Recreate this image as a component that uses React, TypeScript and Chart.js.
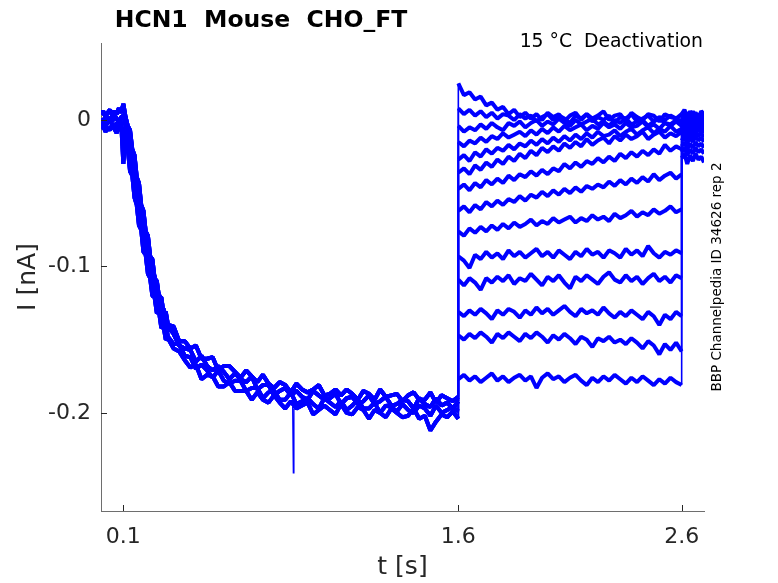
import { useEffect, useRef } from 'react';
import { Chart, registerables } from 'chart.js';

Chart.register(...registerables);

const TITLE = 'HCN1  Mouse  CHO_FT';
const NOTE = '15 °C  Deactivation';
const SOURCE = 'BBP Channelpedia ID 34626 rep 2';

const X_TICKS = [0.1, 1.6, 2.6];
const Y_TICKS = [0, -0.1, -0.2];

// time points [s] of the activation part (holding + activation step)
const T_ACT = [
  0, 0.01, 0.02, 0.03, 0.04, 0.05, 0.06, 0.07, 0.08, 0.09, 0.1,
  0.11, 0.12, 0.13, 0.14, 0.15, 0.16, 0.17, 0.18, 0.19, 0.2,
  0.21, 0.22, 0.23, 0.24, 0.25, 0.26, 0.27, 0.28, 0.29, 0.3,
  0.325, 0.35, 0.375, 0.4, 0.425, 0.45, 0.475, 0.5, 0.525, 0.55, 0.575, 0.6,
  0.625, 0.65, 0.675, 0.7, 0.725, 0.75, 0.775, 0.8, 0.825, 0.85, 0.875, 0.9,
  0.925, 0.95, 0.975, 1, 1.025, 1.05, 1.075, 1.1, 1.125, 1.15, 1.175, 1.2,
  1.225, 1.25, 1.275, 1.3, 1.325, 1.35, 1.375, 1.4, 1.425, 1.45, 1.475, 1.5,
  1.525, 1.55, 1.575, 1.6,
];

// activation current [nA], four groups of sweeps
const ACT_A = [
  0.004, 0.006, 0.002, 0.005, 0.007, 0.003, 0.006, 0.004, 0.008, 0.005, 0.011,
  0.002, -0.004, -0.007, -0.020, -0.024, -0.039, -0.043, -0.058, -0.062, -0.076,
  -0.079, -0.093, -0.095, -0.108, -0.110, -0.121, -0.121, -0.132, -0.131, -0.140,
  -0.141, -0.151, -0.151, -0.156, -0.154, -0.163, -0.163, -0.162, -0.171, -0.168,
  -0.168, -0.172, -0.176, -0.171, -0.175, -0.179, -0.174, -0.180, -0.183, -0.179,
  -0.181, -0.186, -0.180, -0.184, -0.186, -0.184, -0.181, -0.188, -0.187, -0.184,
  -0.188, -0.184, -0.187, -0.191, -0.185, -0.187, -0.191, -0.184, -0.189, -0.188,
  -0.187, -0.192, -0.188, -0.186, -0.191, -0.191, -0.186, -0.193, -0.188, -0.190, -0.192, -0.189,
];
const ACT_B = [
  0.001, -0.002, 0.003, 0.000, 0.002, -0.001, 0.003, 0.001, -0.002, 0.002, 0.003,
  -0.004, -0.006, -0.019, -0.022, -0.036, -0.041, -0.055, -0.060, -0.073, -0.077,
  -0.090, -0.093, -0.104, -0.107, -0.118, -0.119, -0.128, -0.129, -0.138, -0.141,
  -0.146, -0.154, -0.156, -0.157, -0.165, -0.161, -0.168, -0.171, -0.168, -0.172,
  -0.177, -0.173, -0.177, -0.179, -0.175, -0.184, -0.181, -0.181, -0.188, -0.185,
  -0.183, -0.188, -0.185, -0.189, -0.191, -0.185, -0.188, -0.191, -0.190, -0.187,
  -0.194, -0.190, -0.189, -0.194, -0.192, -0.188, -0.194, -0.192, -0.189, -0.195,
  -0.194, -0.191, -0.192, -0.197, -0.190, -0.194, -0.196, -0.190, -0.195, -0.193, -0.197, -0.192,
];
const ACT_C = [
  -0.003, -0.001, -0.004, -0.002, 0.000, -0.003, -0.005, -0.002, -0.004, -0.001, -0.030,
  -0.010, -0.018, -0.022, -0.036, -0.040, -0.055, -0.059, -0.073, -0.077, -0.090,
  -0.093, -0.106, -0.108, -0.120, -0.121, -0.131, -0.131, -0.141, -0.140, -0.148,
  -0.153, -0.153, -0.161, -0.162, -0.170, -0.167, -0.171, -0.176, -0.171, -0.178,
  -0.180, -0.178, -0.178, -0.185, -0.183, -0.183, -0.190, -0.186, -0.185, -0.191,
  -0.191, -0.186, -0.194, -0.192, -0.190, -0.194, -0.197, -0.190, -0.193, -0.196,
  -0.192, -0.198, -0.195, -0.191, -0.197, -0.197, -0.193, -0.200, -0.195, -0.196,
  -0.199, -0.194, -0.198, -0.200, -0.195, -0.197, -0.202, -0.195, -0.200, -0.198, -0.196, -0.199,
];
const ACT_D = [
  -0.006, -0.004, -0.008, -0.005, -0.007, -0.003, -0.006, -0.009, -0.004, -0.007, -0.005,
  -0.013, -0.020, -0.035, -0.038, -0.053, -0.058, -0.072, -0.075, -0.090, -0.092,
  -0.105, -0.108, -0.120, -0.121, -0.132, -0.131, -0.142, -0.141, -0.150, -0.149,
  -0.156, -0.158, -0.164, -0.169, -0.167, -0.177, -0.174, -0.175, -0.182, -0.182,
  -0.179, -0.185, -0.185, -0.185, -0.191, -0.186, -0.191, -0.193, -0.188, -0.193,
  -0.197, -0.192, -0.197, -0.195, -0.193, -0.201, -0.198, -0.195, -0.198, -0.201,
  -0.194, -0.200, -0.201, -0.196, -0.198, -0.204, -0.198, -0.200, -0.203, -0.197,
  -0.200, -0.203, -0.202, -0.197, -0.204, -0.202, -0.212, -0.206, -0.201, -0.203, -0.199, -0.204,
];
const ACT_TRACES = [ACT_A, ACT_B, ACT_C, ACT_D];

// single artefact spike during activation
const SPIKE_T = [0.858, 0.861, 0.864];
const SPIKE_I = [-0.196, -0.241, -0.197];

// time points [s] of the deactivation steps
const T_TAIL = [
  1.6, 1.625, 1.65, 1.675, 1.7, 1.725, 1.75, 1.775, 1.8, 1.825,
  1.85, 1.875, 1.9, 1.925, 1.95, 1.975, 2, 2.025, 2.05, 2.075,
  2.1, 2.125, 2.15, 2.175, 2.2, 2.225, 2.25, 2.275, 2.3, 2.325,
  2.35, 2.375, 2.4, 2.425, 2.45, 2.475, 2.5, 2.525, 2.55, 2.575, 2.6,
];

// tail current [nA], one row per sweep
const TAIL_TRACES = [
  [0.025, 0.017, 0.019, 0.014, 0.016, 0.010, 0.012, 0.007, 0.009, 0.004, 0.007, 0.002, 0.005, 0.001, 0.004, 0.000, 0.005, 0.002, 0.004, -0.001, 0.003, 0.005, 0.000, 0.004, 0.001, 0.003, 0.006, 0.000, 0.003, 0.004, -0.001, 0.005, 0.002, 0.000, 0.004, 0.003, -0.001, 0.004, 0.002, 0.001, 0.004],
  [0.008, 0.004, 0.007, 0.003, 0.006, 0.002, 0.005, 0.001, 0.004, 0.003, 0.000, 0.004, 0.001, 0.003, -0.001, 0.002, 0.004, 0.000, 0.003, 0.001, -0.002, 0.003, 0.001, 0.004, -0.001, 0.002, 0.000, 0.003, -0.002, 0.002, 0.001, 0.004, -0.001, 0.001, 0.003, -0.001, 0.002, 0.000, 0.003, 0.001, -0.001],
  [-0.004, -0.008, -0.005, -0.007, -0.003, -0.006, -0.002, -0.005, -0.007, -0.002, -0.004, -0.001, -0.005, -0.002, 0.000, -0.004, -0.001, -0.003, 0.001, -0.002, -0.004, 0.000, -0.003, -0.001, 0.001, -0.003, -0.001, -0.004, 0.000, -0.002, 0.001, -0.003, -0.001, 0.000, -0.004, -0.001, 0.001, -0.002, -0.003, 0.000, -0.002],
  [-0.015, -0.018, -0.014, -0.016, -0.012, -0.015, -0.011, -0.013, -0.009, -0.012, -0.010, -0.008, -0.011, -0.007, -0.010, -0.006, -0.009, -0.005, -0.008, -0.004, -0.007, -0.005, -0.003, -0.007, -0.004, -0.006, -0.002, -0.005, -0.003, -0.006, -0.002, -0.005, -0.004, -0.001, -0.005, -0.003, -0.006, -0.002, -0.004, -0.001, -0.004],
  [-0.027, -0.024, -0.028, -0.022, -0.025, -0.020, -0.023, -0.019, -0.021, -0.017, -0.020, -0.016, -0.018, -0.014, -0.017, -0.013, -0.016, -0.012, -0.015, -0.011, -0.014, -0.010, -0.013, -0.009, -0.012, -0.008, -0.011, -0.010, -0.007, -0.011, -0.008, -0.006, -0.010, -0.007, -0.005, -0.009, -0.006, -0.008, -0.004, -0.008, -0.006],
  [-0.036, -0.033, -0.037, -0.031, -0.034, -0.029, -0.032, -0.027, -0.030, -0.025, -0.028, -0.023, -0.026, -0.021, -0.024, -0.019, -0.022, -0.018, -0.021, -0.016, -0.019, -0.015, -0.018, -0.013, -0.017, -0.014, -0.012, -0.016, -0.011, -0.014, -0.010, -0.013, -0.011, -0.008, -0.013, -0.010, -0.008, -0.012, -0.009, -0.011, -0.008],
  [-0.047, -0.044, -0.048, -0.043, -0.046, -0.041, -0.044, -0.040, -0.043, -0.038, -0.041, -0.037, -0.039, -0.035, -0.038, -0.034, -0.037, -0.033, -0.035, -0.030, -0.033, -0.029, -0.032, -0.028, -0.030, -0.026, -0.029, -0.025, -0.028, -0.023, -0.026, -0.022, -0.025, -0.021, -0.024, -0.020, -0.023, -0.017, -0.021, -0.018, -0.020],
  [-0.062, -0.059, -0.063, -0.058, -0.061, -0.056, -0.059, -0.055, -0.058, -0.054, -0.056, -0.052, -0.055, -0.051, -0.053, -0.049, -0.052, -0.048, -0.051, -0.047, -0.050, -0.046, -0.049, -0.045, -0.047, -0.044, -0.046, -0.042, -0.045, -0.041, -0.044, -0.040, -0.043, -0.039, -0.042, -0.037, -0.041, -0.038, -0.036, -0.040, -0.037],
  [-0.076, -0.079, -0.074, -0.077, -0.073, -0.076, -0.072, -0.075, -0.071, -0.074, -0.070, -0.073, -0.071, -0.068, -0.072, -0.069, -0.071, -0.067, -0.070, -0.068, -0.066, -0.070, -0.067, -0.069, -0.065, -0.068, -0.066, -0.069, -0.064, -0.067, -0.065, -0.062, -0.066, -0.063, -0.065, -0.061, -0.064, -0.062, -0.059, -0.063, -0.061],
  [-0.093, -0.096, -0.101, -0.092, -0.095, -0.090, -0.094, -0.091, -0.095, -0.089, -0.093, -0.090, -0.094, -0.091, -0.088, -0.093, -0.090, -0.094, -0.089, -0.092, -0.095, -0.090, -0.093, -0.088, -0.092, -0.090, -0.094, -0.089, -0.091, -0.094, -0.088, -0.092, -0.089, -0.093, -0.086, -0.091, -0.094, -0.090, -0.092, -0.089, -0.091],
  [-0.109, -0.113, -0.108, -0.111, -0.116, -0.108, -0.111, -0.107, -0.110, -0.106, -0.112, -0.108, -0.110, -0.105, -0.109, -0.113, -0.107, -0.110, -0.106, -0.111, -0.115, -0.107, -0.110, -0.106, -0.109, -0.112, -0.107, -0.104, -0.109, -0.111, -0.106, -0.110, -0.107, -0.112, -0.108, -0.105, -0.110, -0.107, -0.111, -0.106, -0.108],
  [-0.131, -0.134, -0.130, -0.133, -0.129, -0.132, -0.136, -0.130, -0.133, -0.129, -0.131, -0.135, -0.130, -0.133, -0.128, -0.132, -0.129, -0.133, -0.130, -0.127, -0.131, -0.134, -0.129, -0.132, -0.130, -0.133, -0.128, -0.132, -0.135, -0.131, -0.134, -0.130, -0.133, -0.136, -0.131, -0.134, -0.140, -0.133, -0.136, -0.131, -0.134],
  [-0.147, -0.150, -0.146, -0.149, -0.145, -0.148, -0.152, -0.146, -0.149, -0.145, -0.148, -0.151, -0.146, -0.149, -0.145, -0.148, -0.152, -0.147, -0.150, -0.146, -0.149, -0.153, -0.148, -0.150, -0.155, -0.149, -0.151, -0.148, -0.152, -0.150, -0.153, -0.149, -0.152, -0.156, -0.151, -0.154, -0.160, -0.153, -0.157, -0.152, -0.158],
  [-0.177, -0.174, -0.178, -0.175, -0.179, -0.176, -0.173, -0.178, -0.175, -0.179, -0.176, -0.174, -0.178, -0.175, -0.183, -0.176, -0.173, -0.177, -0.175, -0.179, -0.176, -0.174, -0.178, -0.181, -0.176, -0.179, -0.175, -0.178, -0.174, -0.177, -0.180, -0.176, -0.179, -0.175, -0.178, -0.181, -0.177, -0.180, -0.176, -0.179, -0.181],
];

// time points [s] after stepping back to holding
const T_END = [2.6, 2.6125, 2.625, 2.6375, 2.65, 2.6625, 2.675, 2.6875, 2.7];

const END_TRACES = [
  [0.004, 0.007, 0.002, 0.006, 0.003, 0.005, 0.001, 0.006, 0.004],
  [0.003, 0.000, 0.005, 0.002, 0.006, 0.001, 0.004, 0.002, 0.005],
  [0.002, 0.005, -0.001, 0.003, 0.000, 0.004, 0.001, 0.003, 0.000],
  [0.000, 0.003, -0.002, 0.002, -0.001, 0.003, 0.000, 0.004, 0.001],
  [-0.001, 0.002, -0.003, 0.001, -0.002, 0.002, -0.001, 0.001, -0.002],
  [-0.003, 0.000, -0.004, -0.001, -0.005, 0.000, -0.002, -0.004, -0.001],
  [-0.004, -0.001, -0.006, -0.002, -0.005, -0.001, -0.004, -0.002, -0.005],
  [-0.006, -0.003, -0.008, -0.004, -0.007, -0.002, -0.006, -0.004, -0.007],
  [-0.008, -0.005, -0.010, -0.006, -0.009, -0.005, -0.008, -0.006, -0.009],
  [-0.011, -0.008, -0.013, -0.009, -0.012, -0.008, -0.011, -0.009, -0.012],
  [-0.014, -0.011, -0.016, -0.012, -0.015, -0.011, -0.014, -0.012, -0.015],
  [-0.018, -0.015, -0.020, -0.016, -0.019, -0.015, -0.018, -0.016, -0.019],
  [-0.022, -0.019, -0.024, -0.020, -0.023, -0.019, -0.022, -0.020, -0.023],
  [-0.026, -0.023, -0.030, -0.024, -0.028, -0.023, -0.027, -0.025, -0.029],
];

const FONT = '"DejaVu Sans", sans-serif';
const BLUE = '#0000ff';
const TEXT = '#262626';

function sweep(i: number) {
  const act = ACT_TRACES[i % ACT_TRACES.length];
  const pts = T_ACT.map((t, k) => ({ x: t, y: act[k] }));
  T_TAIL.forEach((t, k) => pts.push({ x: t, y: TAIL_TRACES[i][k] }));
  T_END.forEach((t, k) => pts.push({ x: t, y: END_TRACES[i][k] }));
  return pts;
}

// voltage step jumps are drawn thin, the noisy trace itself thick
const segWidth = (ctx: any) => (ctx.p0.parsed.x === ctx.p1.parsed.x ? 1.6 : 4);

// inside ticks, title and side notes (matlab look)
const decor = {
  id: 'decor',
  afterDraw(chart: Chart) {
    const { ctx, chartArea, scales } = chart;
    ctx.save();
    ctx.strokeStyle = TEXT;
    ctx.lineWidth = 1;
    ctx.beginPath();
    X_TICKS.forEach((v) => {
      const x = Math.round(scales.x.getPixelForValue(v)) + 0.5;
      ctx.moveTo(x, chartArea.bottom);
      ctx.lineTo(x, chartArea.bottom - 6);
    });
    Y_TICKS.forEach((v) => {
      const y = Math.round(scales.y.getPixelForValue(v)) + 0.5;
      ctx.moveTo(chartArea.left, y);
      ctx.lineTo(chartArea.left + 6, y);
    });
    ctx.stroke();

    ctx.fillStyle = '#000';
    ctx.textBaseline = 'alphabetic';
    ctx.font = `bold 23.5px ${FONT}`;
    ctx.textAlign = 'center';
    ctx.fillText(TITLE, 261, 27);

    ctx.font = `18.8px ${FONT}`;
    ctx.textAlign = 'right';
    ctx.fillText(NOTE, 703, 47);

    ctx.translate(717, 277);
    ctx.rotate(-Math.PI / 2);
    ctx.font = `13.5px ${FONT}`;
    ctx.textAlign = 'center';
    ctx.textBaseline = 'middle';
    ctx.fillText(SOURCE, 0, 0);
    ctx.restore();
  },
};

function TraceChart() {
  const canvasRef = useRef<HTMLCanvasElement>(null);

  useEffect(() => {
    if (!canvasRef.current) return;

    const datasets: any[] = TAIL_TRACES.map((_, i) => ({
      data: sweep(i),
      borderColor: BLUE,
      borderWidth: 4,
      borderJoinStyle: 'bevel',
      segment: { borderWidth: segWidth },
      pointRadius: 0,
      tension: 0,
    }));
    datasets.push({
      data: SPIKE_T.map((t, k) => ({ x: t, y: SPIKE_I[k] })),
      borderColor: BLUE,
      borderWidth: 1.2,
      pointRadius: 0,
      tension: 0,
    });

    const chart = new Chart(canvasRef.current, {
      type: 'line',
      data: { datasets },
      options: {
        animation: false,
        responsive: false,
        layout: { padding: { top: 43, right: 74, bottom: 0, left: 0 } },
        plugins: { legend: { display: false }, tooltip: { enabled: false } },
        scales: {
          x: {
            type: 'linear',
            min: 0,
            max: 2.7,
            afterBuildTicks: (s: any) => {
              s.ticks = X_TICKS.map((v) => ({ value: v }));
            },
            afterFit: (s: any) => {
              s.height = 72;
            },
            grid: { display: false, drawTicks: false },
            border: { display: true, color: '#6e6e6e', width: 1 },
            ticks: {
              padding: 13,
              color: TEXT,
              font: { family: FONT, size: 22 },
              callback: (v: any) => String(v),
            },
            title: {
              display: true,
              text: 't [s]',
              color: TEXT,
              font: { family: FONT, size: 25 },
              padding: { top: 0, bottom: 1 },
            },
          },
          y: {
            type: 'linear',
            min: -0.267,
            max: 0.0526,
            afterBuildTicks: (s: any) => {
              s.ticks = Y_TICKS.map((v) => ({ value: v }));
            },
            afterFit: (s: any) => {
              s.width = 101;
            },
            grid: { display: false, drawTicks: false },
            border: { display: true, color: '#6e6e6e', width: 1 },
            ticks: {
              padding: 10,
              color: TEXT,
              font: { family: FONT, size: 22 },
              callback: (v: any) => String(v),
            },
            title: {
              display: true,
              text: 'I [nA]',
              color: TEXT,
              font: { family: FONT, size: 25 },
              padding: { top: 13, bottom: 0 },
            },
          },
        },
      },
      plugins: [decor],
    });

    return () => chart.destroy();
  }, []);

  return <canvas ref={canvasRef} width={778} height={583} />;
}

export default function App() {
  return (
    <div style={{ position: 'absolute', left: 0, top: 0, width: 778, height: 583, background: '#fff' }}>
      <TraceChart />
    </div>
  );
}
